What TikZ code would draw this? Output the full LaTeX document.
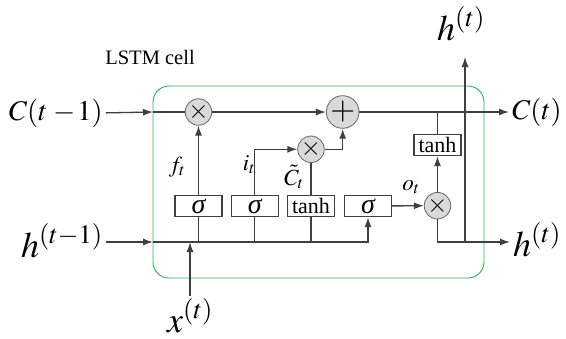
\documentclass[tikz,border=0pt]{standalone}
\usepackage{mathptmx}
\usepackage[no-math]{fontspec}
\setmainfont{Liberation Serif}
\usetikzlibrary{positioning,arrows.meta}
\definecolor{cellgreen}{RGB}{44,178,84}
\definecolor{wiregray}{RGB}{64,64,64}
\definecolor{opfill}{RGB}{217,217,217}

\begin{document}
\begin{tikzpicture}[x=1pt,y=-1pt,
			conn/.style={draw=wiregray,line width=1.3pt},
			arr/.style={conn,-{Latex[length=10pt,width=7pt]}},
			gate/.style={draw=wiregray,line width=1.3pt,rectangle,minimum width=47pt,minimum height=21pt,inner sep=0pt,font=\fontsize{22}{24}\selectfont},
			sgate/.style={gate,font=\fontsize{28}{28}\selectfont\itshape},
			op/.style={draw=wiregray!80,line width=0.8pt,fill=opfill,circle,minimum size=23pt,inner sep=0pt,font=\fontsize{26}{26}\selectfont},
			big/.style={inner sep=3pt,font=\fontsize{36}{40}\selectfont},
			mid/.style={inner sep=3pt,font=\fontsize{28.5}{32}\selectfont},
			lbl/.style={inner sep=0pt,font=\fontsize{23}{25}\selectfont}]
			\useasboundingbox (0,0) rectangle (566,338);
			% cell frame
			\node (cell) [draw=cellgreen,line width=0.9pt,rounded corners=16pt,minimum width=331pt,minimum height=192pt] at (318.5,182) {};
			\node (title) [font=\fontsize{20.5}{22}\selectfont] at (150,57) {LSTM cell};

			% gates
			\node (sg1) [sgate] at (198.5,206) {σ};
			\node (sg2) [sgate] at (254.7,206) {σ};
			\node (th1) [gate] at (311,206) {tanh};
			\node (sg3) [sgate] at (368,206) {σ};
			\node (th2) [gate] at (437.5,145) {tanh};

			% pointwise operations
			\node (mf) [op] at (198.5,112) {$\times$};
			\node (pl) [op,font=\fontsize{32}{32}\selectfont] at (342.7,112) {$+$};
			\node (mi) [op] at (311,149.3) {$\times$};
			\node (mo) [op] at (437.5,205.7) {$\times$};

			% inputs and outputs
			\node (Cin) [mid,anchor=base east] at (106,120) {$C(t\mkern4mu{-}\mkern1mu1)$};
			\node (hin) [big,anchor=base east] at (106,257) {$h^{(t-1)}$};
			\node (xin) [big,anchor=base] at (190,332) {$x^{(t)}$};
			\node (htop) [big,anchor=base] at (461,40) {$h^{(t)}$};
			\node (Cout) [mid,anchor=base west] at (509,119) {$C(t)$};
			\node (hout) [big,anchor=base west] at (510,256) {$h^{(t)}$};
			\coordinate (inC) at (153,112);
			\coordinate (inH) at (153,242);
			\coordinate (hjoin) at (465,242);
			\coordinate (upH) at (465,57);

			% labels
			\node [lbl,anchor=base] at (177,172) {$f_t$};
			\node [lbl,anchor=base] at (249,170) {$i_t$};
			\node [lbl,anchor=base] at (294,185) {$\tilde{C}_t$};
			\node [lbl,anchor=base] at (411,190) {$o_t$};

			% cell state
			\draw[arr] (Cin.east) -- (inC);
			\draw[conn] (inC) -- (mf);
			\draw[arr] (mf) -- (pl);
			\draw[arr] (pl) -- (Cout.west |- pl);
			\draw[conn] (th2) -- (th2 |- pl);

			% hidden state and input
			\draw[arr] (hin.east |- inH) -- (inH);
			\draw[arr] (inH) -| (sg3);
			\draw[conn] (sg1) -- (sg1 |- inH);
			\draw[conn] (sg2) -- (sg2 |- inH);
			\draw[conn] (th1) -- (th1 |- inH);
			\draw[arr] (xin.north) -- (xin.north |- inH);

			% gate outputs
			\draw[arr] (sg1) -- (mf);
			\draw[arr] (sg2) |- (mi);
			\draw[conn] (th1) -- (mi);
			\draw[arr] (mi) -| (pl);
			\draw[arr] (sg3) -- (mo);
			\draw[arr] (mo) -- (th2);
			\draw[arr] (mo) |- (hout.west |- hjoin);
			\draw[arr] (hjoin) -- (upH);
		\end{tikzpicture}
\end{document}
